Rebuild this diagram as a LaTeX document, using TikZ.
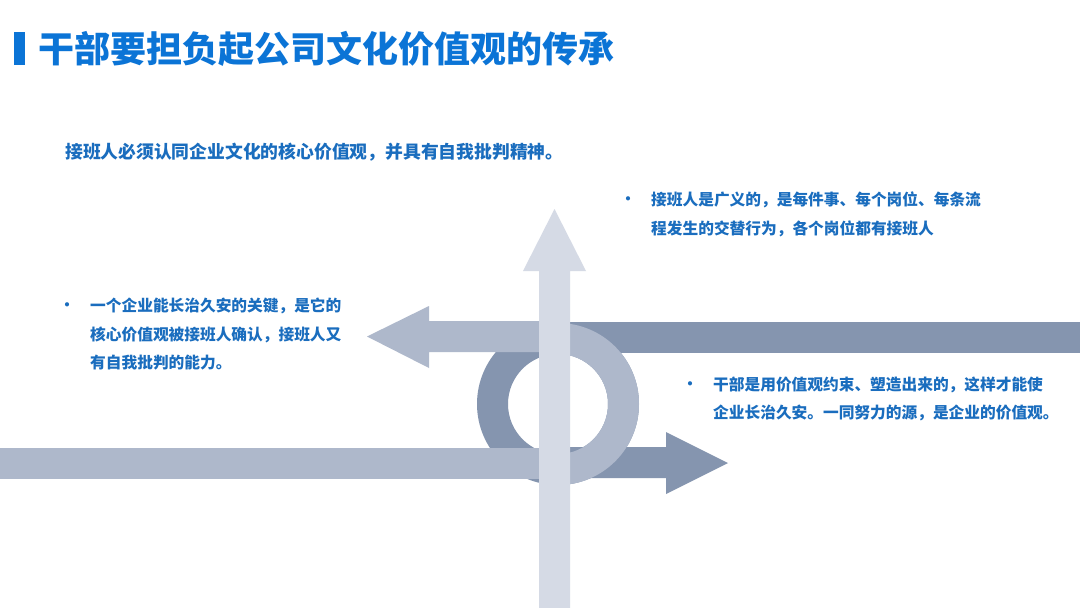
\documentclass[tikz,border=0pt]{standalone}
\usepackage{fontspec}
\newfontfamily\cjk{Noto Sans CJK SC}
\definecolor{darkarr}{HTML}{8595AF}
\definecolor{midarr}{HTML}{AEB8CB}
\definecolor{lightarr}{HTML}{D5DAE5}
\definecolor{titleblue}{HTML}{0B74D6}
\definecolor{textblue}{HTML}{1A6DBE}
\begin{document}
\begin{tikzpicture}[x=1pt,y=-1pt,
  txt/.style={anchor=base west, inner sep=0pt, text=textblue, font=\cjk\bfseries\fontsize{15.7}{18}\selectfont},
  bigtxt/.style={anchor=base west, inner sep=0pt, text=textblue, font=\cjk\bfseries\fontsize{17.8}{20}\selectfont},
  bul/.style={anchor=base, inner sep=0pt, text=textblue, font=\cjk\bfseries\fontsize{15}{16}\selectfont},
  titletxt/.style={anchor=base west, inner sep=0pt, text=titleblue, font=\cjk\bfseries\fontsize{36}{40}\selectfont}]
\useasboundingbox[fill=white] (0,0) rectangle (1080,608);
% title
\fill[titleblue] (14,32) rectangle (25,65);
\node[titletxt] (title) at (38,62) {干部要担负起公司文化价值观的传承};
% ---------- dark strand ----------
\coordinate (c) at (558,404);
\fill[darkarr] (558,322) rectangle (1080,353);
\fill[darkarr] (558,447) -- (666,447) -- (666,432) -- (728,463) -- (666,494) -- (666,478) -- (558,478) -- cycle;
\fill[darkarr, even odd rule] (c) circle[radius=81pt] (c) circle[radius=50pt];
% ---------- mid strand ----------
\begin{scope}
  \clip (558,0) rectangle (1080,608);
  \fill[midarr, even odd rule] (c) circle[radius=81pt] (c) circle[radius=50pt];
\end{scope}
\fill[midarr] (0,448) rectangle (560,479);
\fill[midarr] (560,321) -- (429,321) -- (429,306) -- (367,336.5) -- (429,368) -- (429,352) -- (560,352) -- cycle;
% ---------- vertical arrow ----------
\fill[lightarr] (539,608) -- (539,271) -- (523,271) -- (554.5,209) -- (586,271) -- (570,271) -- (570,608) -- cycle;
% ---------- texts ----------
\node[bigtxt] (top) at (65,158) {接班人必须认同企业文化的核心价值观，并具有自我批判精神。};

\node[bul] (b1) at (67,310) {•};
\node[txt] (l1a) at (90,311) {一个企业能长治久安的关键，是它的};
\node[txt] (l1b) at (90,340) {核心价值观被接班人确认，接班人又};
\node[txt] (l1c) at (90,368) {有自我批判的能力。};

\node[bul] (b2) at (628,204) {•};
\node[txt] (l2a) at (651,205) {接班人是广义的，是每件事、每个岗位、每条流};
\node[txt] (l2b) at (651,234) {程发生的交替行为，各个岗位都有接班人};

\node[bul] (b3) at (690,389) {•};
\node[txt] (l3a) at (713,390) {干部是用价值观约束、塑造出来的，这样才能使};
\node[txt] (l3b) at (713,418) {企业长治久安。一同努力的源，是企业的价值观。};
\end{tikzpicture}
\end{document}
